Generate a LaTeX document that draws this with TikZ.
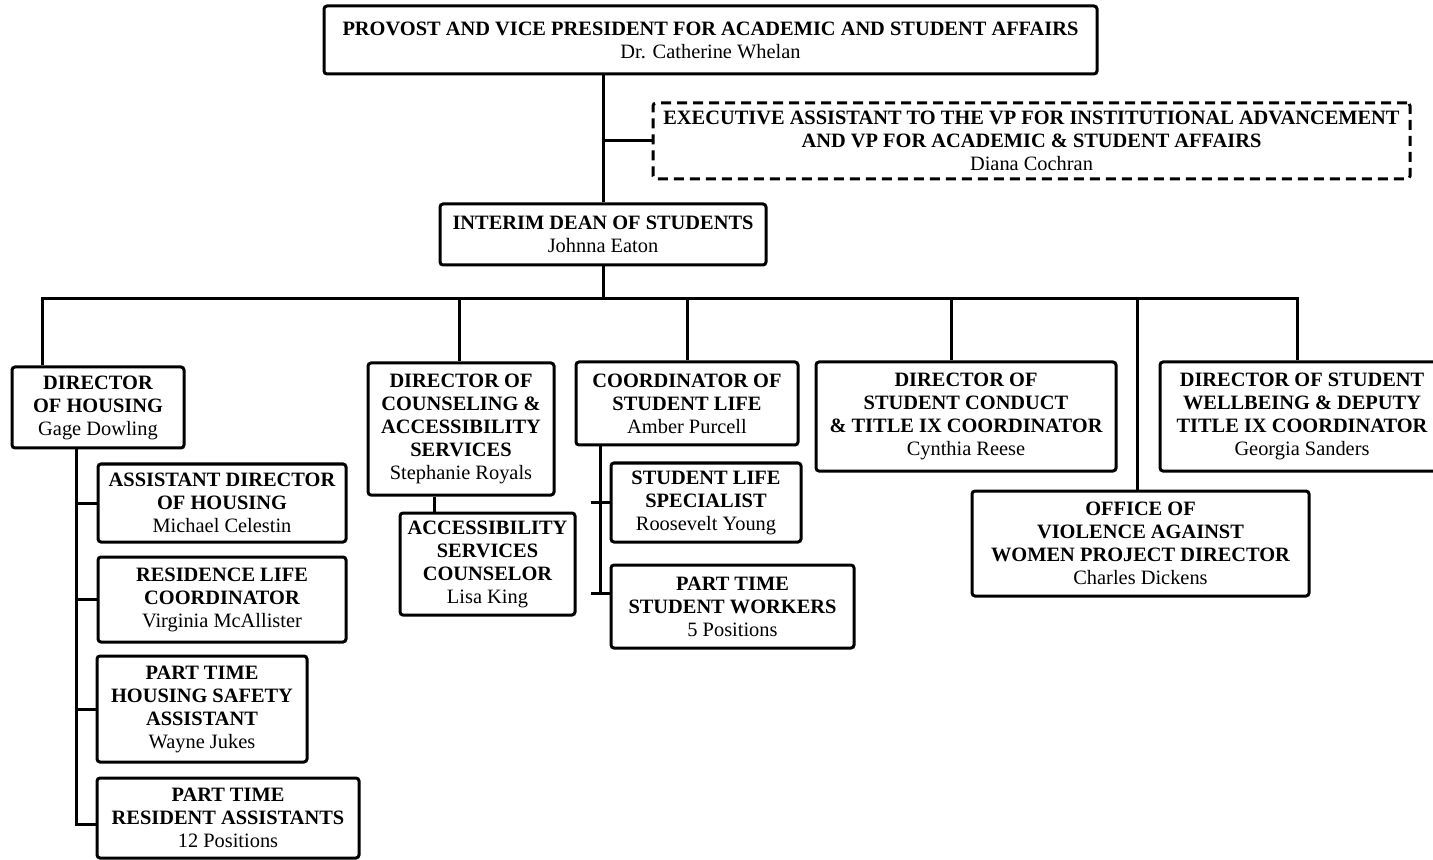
\documentclass[tikz,border=0pt]{standalone}
\usepackage{fontspec}
\setmainfont{Liberation Serif}

\begin{document}
\begin{tikzpicture}[x=0.5pt,y=-0.5pt,line width=1.5pt,line join=miter]
    \tikzstyle{post}=[draw,rounded corners=1.5pt,align=center,inner sep=1pt,
        font=\fontsize{10.2}{11.5}\selectfont\bfseries]
    \tikzstyle{vacant}=[post,dash pattern=on 5pt off 3pt]
    \useasboundingbox (0,0) rectangle (1433,860);

    % top of the chart
    \node[post,minimum width=386.5pt,minimum height=34pt] (prov) at (710.5,40)
        {PROVOST AND VICE PRESIDENT FOR ACADEMIC AND STUDENT AFFAIRS\\\mdseries Dr. Catherine Whelan};
    \node[vacant,minimum width=378.5pt,minimum height=38pt] (exec) at (1031.5,141)
        {EXECUTIVE ASSISTANT TO THE VP FOR INSTITUTIONAL ADVANCEMENT\\AND VP FOR ACADEMIC \& STUDENT AFFAIRS\\\mdseries Diana Cochran};
    \node[post,minimum width=163pt,minimum height=30.5pt] (dean) at (603,234.5)
        {INTERIM DEAN OF STUDENTS\\\mdseries Johnna Eaton};

    % directors
    \node[post,minimum width=86pt,minimum height=40.5pt] (housing) at (98,407.5)
        {DIRECTOR\\OF HOUSING\\\mdseries Gage Dowling};
    \node[post,minimum width=93pt,minimum height=66pt] (couns) at (461,429)
        {DIRECTOR OF\\COUNSELING \&\\ACCESSIBILITY\\SERVICES\\\mdseries Stephanie Royals};
    \node[post,minimum width=111pt,minimum height=41.5pt] (coord) at (687,403.5)
        {COORDINATOR OF\\STUDENT LIFE\\\mdseries Amber Purcell};
    \node[post,minimum width=150pt,minimum height=54.5pt] (conduct) at (966,416.5)
        {DIRECTOR OF\\STUDENT CONDUCT\\\& TITLE IX COORDINATOR\\\mdseries Cynthia Reese};
    \node[post,minimum width=168.5pt,minimum height=52.5pt] (ovaw) at (1140.5,543.5)
        {OFFICE OF\\VIOLENCE AGAINST\\WOMEN PROJECT DIRECTOR\\\mdseries Charles Dickens};
    \node[post,minimum width=142pt,minimum height=54.5pt] (wellb) at (1302,416.5)
        {DIRECTOR OF STUDENT\\WELLBEING \& DEPUTY\\TITLE IX COORDINATOR\\\mdseries Georgia Sanders};

    % housing staff
    \node[post,minimum width=124pt,minimum height=39pt] (asst) at (222,503)
        {ASSISTANT DIRECTOR\\OF HOUSING\\\mdseries Michael Celestin};
    \node[post,minimum width=124pt,minimum height=42.5pt] (reslife) at (222,599.5)
        {RESIDENCE LIFE\\COORDINATOR\\\mdseries Virginia McAllister};
    \node[post,minimum width=105pt,minimum height=53pt] (safety) at (202,709)
        {PART TIME\\HOUSING SAFETY\\ASSISTANT\\\mdseries Wayne Jukes};
    \node[post,minimum width=131pt,minimum height=40pt] (ra) at (228,818)
        {PART TIME\\RESIDENT ASSISTANTS\\\mdseries 12 Positions};

    % counseling and student life staff
    \node[post,minimum width=87.5pt,minimum height=51pt] (acc) at (487.5,564)
        {ACCESSIBILITY\\SERVICES\\COUNSELOR\\\mdseries Lisa King};
    \node[post,minimum width=95pt,minimum height=39.5pt] (spec) at (706,502.5)
        {STUDENT LIFE\\SPECIALIST\\\mdseries Roosevelt Young};
    \node[post,minimum width=121.5pt,minimum height=41.5pt] (ptsw) at (732.5,606.5)
        {PART TIME\\STUDENT WORKERS\\\mdseries 5 Positions};

    % lines
    \coordinate (hd) at (42,299);
    \coordinate (cn) at (459,299);
    \coordinate (cd) at (951,299);
    \coordinate (od) at (1137,299);
    \coordinate (wd) at (1297,299);
    \coordinate (ht) at (76,824);
    \coordinate (ac) at (434,0);
    \coordinate (ct) at (600,593);
    \draw (prov.south -| dean.north) -- (dean.north);
    \draw (exec.west -| dean.north) -- (exec.west);
    \draw (dean.south) -- (dean.south |- hd);
    \draw (hd |- housing.north) -- (hd) -- (wd) -- (wd |- wellb.north);
    \draw (cn) -- (cn |- couns.north);
    \draw (coord.north |- hd) -- (coord.north);
    \draw (cd) -- (cd |- conduct.north);
    \draw (od) -- (od |- ovaw.north);
    \draw (ht |- housing.south) -- (ht) -- (ht -| ra.west);
    \foreach \n in {asst,reslife,safety}
        \draw (ht |- \n.west) -- (\n.west);
    \draw (ac |- couns.south) -- (ac |- acc.north);
    \draw (ct |- coord.south) -- (ct);
    \draw ([xshift=-4.5pt]ct) -- (ct -| ptsw.west);
    \draw ([xshift=-4.5pt]ct |- spec.west) -- (spec.west);
\end{tikzpicture}
\end{document}
